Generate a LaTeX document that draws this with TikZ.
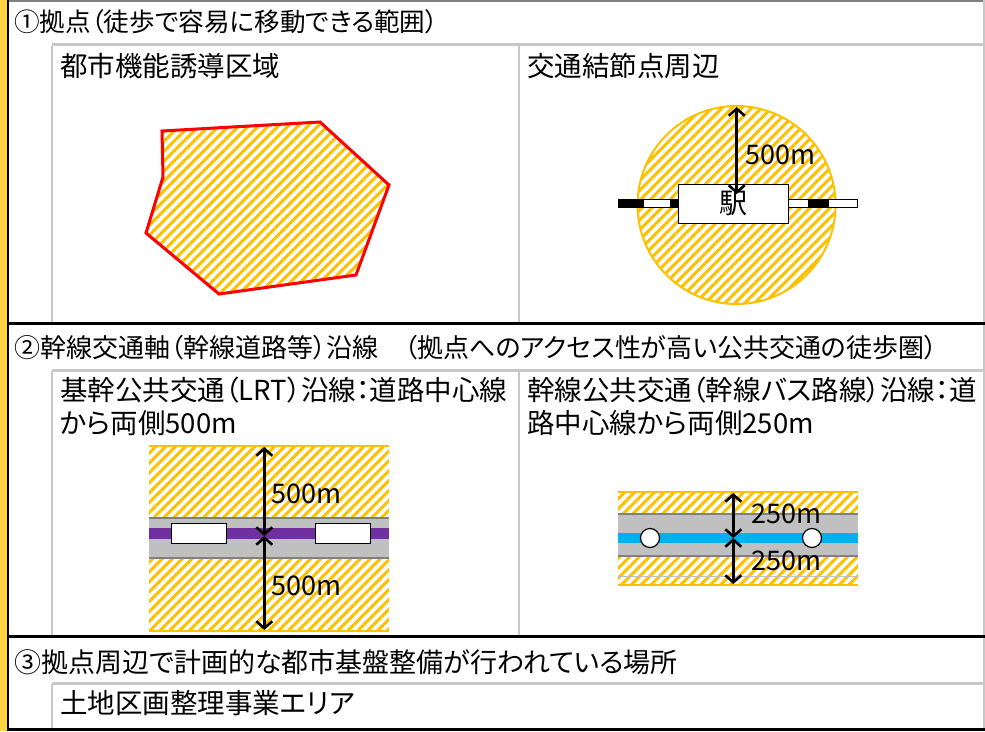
\documentclass[tikz,border=0pt]{standalone}
\usepackage{fontspec}
\setmainfont{Noto Sans CJK JP}[RawFeature=+palt]
\usetikzlibrary{patterns.meta,arrows.meta}

\definecolor{hatch}{HTML}{FFC000}
\definecolor{barY}{HTML}{FFD23F}
\definecolor{grid}{HTML}{C8C8C8}
\definecolor{road}{HTML}{C0C0C0}
\definecolor{roadedge}{HTML}{808080}
\definecolor{lrt}{HTML}{7030A0}
\definecolor{bus}{HTML}{00B0F0}

\begin{document}
\begin{tikzpicture}[x=1pt,y=-1pt]
        \tikzstyle{hatched}=[pattern={Lines[angle=45,distance=7pt,line width=3pt]},pattern color=hatch]
        \tikzstyle{dim}=[{Straight Barb[length=7pt,width=16pt]}-{Straight Barb[length=7pt,width=16pt]},line width=2.6pt]
        \tikzstyle{head}=[anchor=west,inner sep=0pt,font=\fontsize{25.6}{30}\selectfont]
        \tikzstyle{cell}=[anchor=west,inner sep=0pt,font=\fontsize{27.5}{30}\selectfont]
        \tikzstyle{tag}=[anchor=west,inner sep=0pt,font=\fontsize{27}{30}\selectfont]
        \tikzstyle{car}=[draw,fill=white,line width=1pt,minimum width=55pt,minimum height=20pt,inner sep=0pt]
        \tikzstyle{stop}=[circle,draw,fill=white,line width=1.2pt,minimum size=19pt,inner sep=0pt]
        \useasboundingbox (0,0) rectangle (985,731);

        % frame and grid
        \fill[barY] (0,0) rectangle (7,731);
        \draw[roadedge,line width=1.5pt] (8,0.75) -- (985,0.75);
        \draw[grid,line width=2.5pt] (984,0) -- (984,731);
        \foreach \y in {44.5,370,683}
                \draw[grid,line width=3pt] (52,\y) -- (985,\y);
        \foreach \x/\a/\b in {52/46/322, 519/46/322, 52/371/635, 519/371/635, 52/684/728}
                \draw[grid,line width=2.5pt] (\x,\a) -- (\x,\b);
        \foreach \y in {323,636,729.5}
                \draw[line width=3pt] (8,\y) -- (985,\y);
        \draw[line width=2pt] (8,0) -- (8,731);

        % texts
        \node[head] (h-1) at (14,22) {①拠点（徒歩で容易に移動できる範囲）};
        \node[cell] (t-area) at (60,66) {都市機能誘導区域};
        \node[cell] (t-node) at (527,66) {交通結節点周辺};
        \node[head,font=\fontsize{26}{30}\selectfont] (h-2) at (14,348) {②幹線交通軸（幹線道路等）沿線　（拠点へのアクセス性が高い公共交通の徒歩圏）};
        \node[cell] (t-lrt1) at (60,390) {基幹公共交通（LRT）沿線：道路中心線};
        \node[cell] (t-lrt2) at (60,423) {から両側500m};
        \node[cell] (t-bus1) at (527,390) {幹線公共交通（幹線バス路線）沿線：道};
        \node[cell] (t-bus2) at (527,423) {路中心線から両側250m};
        \node[head,font=\fontsize{27}{30}\selectfont] (h-3) at (14,662) {③拠点周辺で計画的な都市基盤整備が行われている場所};
        \node[cell] (t-land) at (60,703) {土地区画整理事業エリア};

        % induced area
        \draw[hatched,draw=red,line width=3pt] (162,131) -- (320,122) -- (389,185) -- (356,275)
                -- (219,294) -- (146,233) -- (163,177) -- cycle;

        % station circle
        \draw[hatched,draw=hatch,line width=2pt] (736.5,205) circle[radius=99pt];
        \foreach \a/\b/\c in {618/643/black, 643/670/white, 670/679/black, 788/808/white, 808/828/black, 828/857/white}
                \draw[fill=\c,line width=1pt] (\a,199.5) rectangle (\b,207.5);
        \node[draw,fill=white,line width=1pt,minimum width=110pt,minimum height=39pt,inner sep=0pt,
                font=\fontsize{28}{30}\selectfont] (stn) at (733.3,203.7) {駅};
        \coordinate (s-top) at (736.7,107);
        \coordinate (s-mid) at (736.7,194);
        \draw[dim] (s-top) -- (s-mid);
        \node[tag] (r-stn) at (745,155) {500m};

        % LRT corridor
        \fill[hatched] (149,446) rectangle (389,518);
        \fill[hatched] (149,558) rectangle (389,631);
        \fill[road] (149,518) rectangle (389,558);
        \draw[roadedge,line width=1.2pt] (149,518) -- (389,518) (149,558) -- (389,558);
        \fill[lrt] (149,527.7) rectangle (389,539);
        \node[car] (car-1) at (198.5,533.3) {};
        \node[car] (car-2) at (342.5,533.3) {};
        \draw[hatch,line width=2.5pt] (149,446) -- (389,446) (149,631) -- (389,631);
        \coordinate (l-top) at (264.3,447);
        \coordinate (l-mid) at (264.3,536);
        \coordinate (l-bot) at (264.3,630);
        \draw[dim] (l-top) -- (l-mid);
        \draw[dim] (l-mid) -- (l-bot);
        \node[tag] (r-l1) at (271,494) {500m};
        \node[tag] (r-l2) at (271,586) {500m};

        % bus corridor
        \fill[hatched] (618,492) rectangle (858,514);
        \fill[hatched] (618,556) rectangle (858,585);
        \fill[road] (618,514) rectangle (858,556);
        \draw[roadedge,line width=1.2pt] (618,514) -- (858,514) (618,556) -- (858,556);
        \draw[road,line width=1pt] (618,576) -- (858,576);
        \fill[bus] (618,533.3) rectangle (858,543.3);
        \node[stop] (bs-1) at (650,538) {};
        \node[stop] (bs-2) at (812,538) {};
        \draw[hatch,line width=2.5pt] (618,492) -- (858,492) (618,585) -- (858,585);
        \coordinate (b-top) at (733.3,493);
        \coordinate (b-mid) at (733.3,538);
        \coordinate (b-bot) at (733.3,584);
        \draw[dim] (b-top) -- (b-mid);
        \draw[dim] (b-mid) -- (b-bot);
        \node[tag] (r-b1) at (751,514) {250m};
        \node[tag] (r-b2) at (751,561) {250m};
\end{tikzpicture}
\end{document}
